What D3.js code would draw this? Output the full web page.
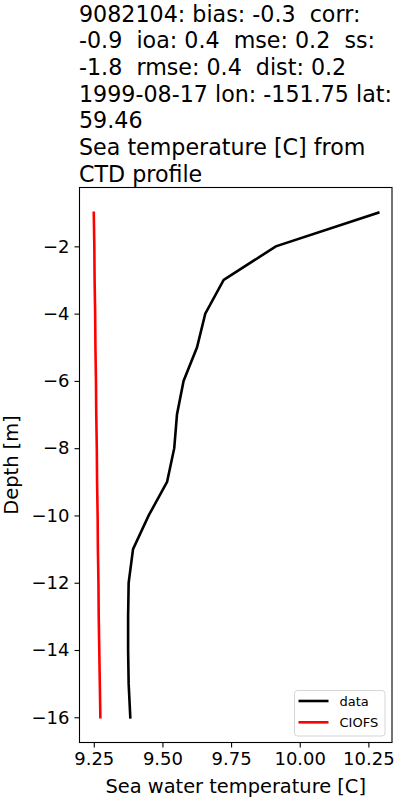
<!DOCTYPE html>
<meta charset="utf-8">
<style>
    body { margin: 0; background: #fff; }
    svg text { font-family: "DejaVu Sans", sans-serif; fill: #000; }
    .tick text { font-size: 18px; }
    .lbl { font-size: 19.4px; }
    .ttl { font-size: 22.2px; white-space: pre; }
    .leg text { font-size: 13px; }
</style>
<svg width="400" height="800"></svg>
<script src="https://d3js.org/d3.v7.min.js"></script>
<script>
    // depths [m] and temperatures [C]
    var depth = [-1, -2, -3, -4, -5, -6, -7, -8, -9, -10, -11, -12, -13, -14, -15, -16];
    var obs = [10.286, 9.913, 9.723, 9.656, 9.626, 9.577, 9.553, 9.543, 9.517, 9.45, 9.393, 9.377, 9.375, 9.375, 9.377, 9.383];
    var model = [9.250, 9.252, 9.253, 9.255, 9.256, 9.258, 9.259, 9.261, 9.262, 9.264, 9.265, 9.267, 9.268, 9.270, 9.272, 9.274];
    var xTicks = [9.25, 9.5, 9.75, 10.0, 10.25];
    var yTicks = [-2, -4, -6, -8, -10, -12, -14, -16];
    var titleLines = [
        "9082104: bias: -0.3  corr:",
        "-0.9  ioa: 0.4  mse: 0.2  ss:",
        "-1.8  rmse: 0.4  dist: 0.2",
        "1999-08-17 lon: -151.75 lat:",
        "59.46",
        "Sea temperature [C] from",
        "CTD profile"
    ];
    var series = [
        {name: "data", values: obs, color: "#000"},
        {name: "CIOFS", values: model, color: "#f00"}
    ];

    var svg = d3.select("svg");
    var m = {left: 79.5, right: 392, top: 187.5, bottom: 742.5};

    var x = d3.scaleLinear().domain([9.198, 10.336]).range([m.left, m.right]);
    var y = d3.scaleLinear().domain([-16.75, -0.25]).range([m.bottom, m.top]);
    var minus = function (v) { return String(v).replace("-", "\u2212"); };

    svg.append("g")
        .attr("transform", "translate(0," + m.bottom + ")")
        .call(d3.axisBottom(x).tickValues(xTicks).tickSize(5).tickPadding(5)
            .tickFormat(d3.format(".2f")))
        .call(function (g) { g.select(".domain").remove(); });

    svg.append("g")
        .attr("transform", "translate(" + m.left + ",0)")
        .call(d3.axisLeft(y).tickValues(yTicks).tickSize(5).tickPadding(5)
            .tickFormat(minus))
        .call(function (g) { g.select(".domain").remove(); });

    svg.selectAll(".tick line").attr("stroke", "#000").attr("stroke-width", 1.1);

    var line = d3.line()
        .x(function (d) { return x(d[0]); })
        .y(function (d) { return y(d[1]); });

    series.forEach(function (s) {
        svg.append("path")
            .datum(d3.zip(s.values, depth))
            .attr("fill", "none")
            .attr("stroke", s.color)
            .attr("stroke-width", 2.6)
            .attr("stroke-linecap", "square")
            .attr("d", line);
    });

    svg.append("rect")
        .attr("x", m.left).attr("y", m.top)
        .attr("width", m.right - m.left).attr("height", m.bottom - m.top)
        .attr("fill", "none").attr("stroke", "#000").attr("stroke-width", 1.1);

    // legend
    var leg = svg.append("g").attr("class", "leg");
    leg.append("rect")
        .attr("x", 294.5).attr("y", 690.5).attr("width", 90.5).attr("height", 45.5)
        .attr("rx", 3).attr("fill", "#fff").attr("fill-opacity", 0.8)
        .attr("stroke", "#d6d6d6");
    series.forEach(function (s, i) {
        var ly = 701 + i * 21.3;
        leg.append("line")
            .attr("x1", 298.5).attr("x2", 328.5).attr("y1", ly).attr("y2", ly)
            .attr("stroke", s.color).attr("stroke-width", 2.6);
        leg.append("text")
            .attr("x", 339.5).attr("y", ly + 4.6)
            .text(s.name);
    });

    svg.append("text").attr("class", "lbl")
        .attr("x", (m.left + m.right) / 2).attr("y", 793)
        .attr("text-anchor", "middle")
        .text("Sea water temperature [C]");

    svg.append("text").attr("class", "lbl")
        .attr("transform", "translate(18," + (m.top + m.bottom) / 2 + ") rotate(-90)")
        .attr("text-anchor", "middle")
        .text("Depth [m]");

    svg.append("text").attr("class", "ttl")
        .selectAll("tspan")
        .data(titleLines)
        .enter().append("tspan")
        .attr("x", 79)
        .attr("y", function (d, i) { return 21.7 + i * 26.67; })
        .text(function (d) { return d; });
</script>
